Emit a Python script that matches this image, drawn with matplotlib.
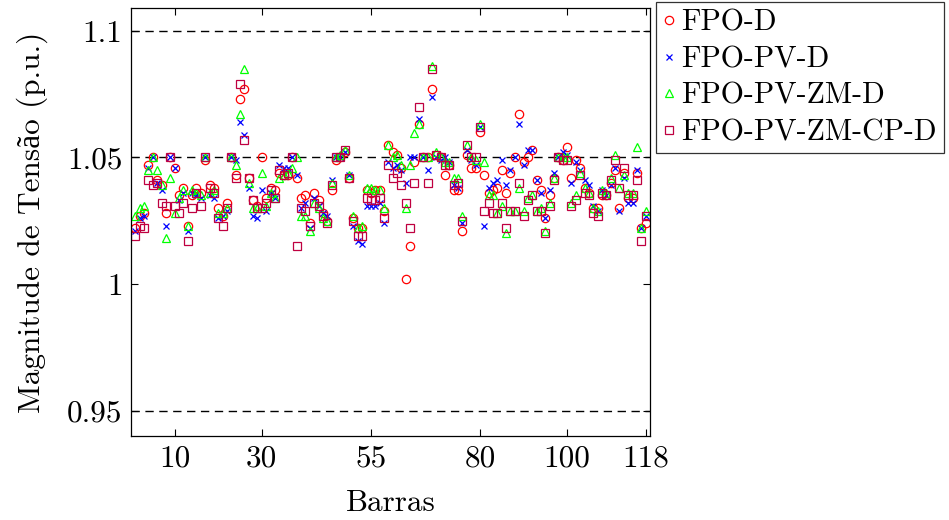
import numpy as np
import matplotlib
matplotlib.use("Agg")
import matplotlib.pyplot as plt

plt.rcParams['font.family'] = ['cmr10', 'Liberation Serif']
plt.rcParams['axes.unicode_minus'] = False

# bus voltage magnitudes (p.u.) for each OPF case, buses 1..118
fpo_d = [
    1.022, 1.027, 1.028, 1.047, 1.050, 1.041, 1.039, 1.028, 1.050, 1.046,
    1.035, 1.038, 1.023, 1.035, 1.038, 1.036, 1.049, 1.039, 1.038, 1.030,
    1.027, 1.032, 1.050, 1.043, 1.073, 1.077, 1.042, 1.033, 1.031, 1.050,
    1.034, 1.038, 1.037, 1.044, 1.043, 1.043, 1.050, 1.042, 1.034, 1.035,
    1.024, 1.036, 1.033, 1.028, 1.025, 1.037, 1.049, 1.050, 1.052, 1.042,
    1.026, 1.022, 1.022, 1.037, 1.036, 1.037, 1.037, 1.029, 1.055, 1.052,
    1.051, 1.046, 1.002, 1.015, 1.048, 1.063, 1.050, 1.050, 1.077, 1.051,
    1.050, 1.043, 1.047, 1.037, 1.037, 1.021, 1.051, 1.046, 1.046, 1.060,
    1.043, 1.036, 1.037, 1.038, 1.045, 1.036, 1.044, 1.050, 1.067, 1.048,
    1.050, 1.053, 1.041, 1.037, 1.026, 1.035, 1.042, 1.050, 1.049, 1.054,
    1.042, 1.049, 1.046, 1.038, 1.036, 1.030, 1.030, 1.035, 1.035, 1.040,
    1.045, 1.030, 1.044, 1.034, 1.034, 1.044, 1.022, 1.024,
]
fpo_pv_d = [
    1.021, 1.026, 1.027, 1.046, 1.050, 1.040, 1.037, 1.023, 1.050, 1.046,
    1.033, 1.036, 1.021, 1.036, 1.035, 1.034, 1.050, 1.035, 1.034, 1.026,
    1.027, 1.029, 1.050, 1.049, 1.064, 1.059, 1.038, 1.027, 1.026, 1.037,
    1.029, 1.036, 1.034, 1.047, 1.046, 1.046, 1.050, 1.043, 1.030, 1.032,
    1.022, 1.034, 1.031, 1.028, 1.027, 1.041, 1.050, 1.050, 1.052, 1.043,
    1.023, 1.017, 1.016, 1.031, 1.031, 1.031, 1.032, 1.024, 1.048, 1.046,
    1.047, 1.045, 1.040, 1.050, 1.050, 1.065, 1.050, 1.045, 1.074, 1.050,
    1.049, 1.050, 1.048, 1.039, 1.038, 1.024, 1.053, 1.049, 1.047, 1.062,
    1.023, 1.038, 1.040, 1.041, 1.049, 1.039, 1.045, 1.050, 1.063, 1.047,
    1.053, 1.053, 1.041, 1.036, 1.026, 1.037, 1.044, 1.050, 1.052, 1.051,
    1.040, 1.048, 1.045, 1.041, 1.039, 1.031, 1.029, 1.037, 1.035, 1.039,
    1.046, 1.029, 1.042, 1.032, 1.032, 1.045, 1.022, 1.027,
]
fpo_pv_zm_d = [
    1.027, 1.030, 1.031, 1.045, 1.050, 1.045, 1.039, 1.018, 1.042, 1.028,
    1.034, 1.037, 1.023, 1.037, 1.036, 1.035, 1.050, 1.036, 1.037, 1.028,
    1.028, 1.030, 1.050, 1.047, 1.067, 1.085, 1.040, 1.030, 1.030, 1.044,
    1.031, 1.036, 1.034, 1.042, 1.043, 1.044, 1.046, 1.050, 1.027, 1.027,
    1.021, 1.032, 1.030, 1.026, 1.025, 1.040, 1.050, 1.051, 1.053, 1.043,
    1.027, 1.022, 1.023, 1.038, 1.038, 1.037, 1.037, 1.030, 1.055, 1.050,
    1.051, 1.047, 1.030, 1.047, 1.0595, 1.063, 1.050, 1.050, 1.086, 1.052,
    1.050, 1.048, 1.048, 1.042, 1.042, 1.027, 1.055, 1.050, 1.049, 1.063,
    1.048, 1.035, 1.035, 1.028, 1.031, 1.020, 1.029, 1.029, 1.038, 1.029,
    1.034, 1.035, 1.029, 1.030, 1.021, 1.032, 1.042, 1.050, 1.050, 1.050,
    1.032, 1.035, 1.044, 1.038, 1.036, 1.030, 1.029, 1.037, 1.036, 1.042,
    1.051, 1.038, 1.043, 1.036, 1.036, 1.054, 1.022, 1.029,
]
fpo_pv_zm_cp_d = [
    1.019, 1.023, 1.022, 1.041, 1.039, 1.040, 1.032, 1.031, 1.050, 1.031,
    1.028, 1.032, 1.017, 1.030, 1.036, 1.031, 1.050, 1.038, 1.036, 1.026,
    1.023, 1.030, 1.050, 1.042, 1.079, 1.057, 1.042, 1.033, 1.030, 1.030,
    1.032, 1.037, 1.034, 1.045, 1.043, 1.044, 1.050, 1.015, 1.030, 1.029,
    1.023, 1.032, 1.031, 1.027, 1.024, 1.039, 1.050, 1.050, 1.053, 1.042,
    1.025, 1.019, 1.019, 1.034, 1.033, 1.033, 1.034, 1.026, 1.047, 1.042,
    1.044, 1.039, 1.032, 1.022, 1.040, 1.070, 1.050, 1.040, 1.085, 1.051,
    1.050, 1.047, 1.047, 1.039, 1.040, 1.025, 1.055, 1.050, 1.050, 1.062,
    1.029, 1.032, 1.028, 1.028, 1.032, 1.022, 1.029, 1.029, 1.040, 1.027,
    1.033, 1.035, 1.029, 1.029, 1.020, 1.031, 1.041, 1.050, 1.049, 1.049,
    1.031, 1.033, 1.043, 1.036, 1.035, 1.028, 1.027, 1.036, 1.035, 1.041,
    1.049, 1.038, 1.046, 1.035, 1.035, 1.041, 1.017, 1.027,
]
labels = ['FPO-D', 'FPO-PV-D', 'FPO-PV-ZM-D', 'FPO-PV-ZM-CP-D']
xtick_vals = [10, 30, 55, 80, 100, 118]
ytick_vals = [0.95, 1.0, 1.05, 1.1]
ytick_labels = ['0.95', '1', '1.05', '1.1']
limits = [0.95, 1.05, 1.1]

buses = np.arange(1, len(fpo_d) + 1)

fig = plt.figure(figsize=(9.49, 5.2), dpi=100)
ax = fig.add_axes([131 / 949, 1 - 436 / 520, 519 / 949, 428 / 520])

for y in limits:
    ax.axhline(y, color='black', ls=(0, (6, 4)), lw=1.0, zorder=1)

ax.plot(buses, fpo_d, ls='none', marker='o', ms=6, mfc='none', mec='red', mew=0.9, label=labels[0])
ax.plot(buses, fpo_pv_d, ls='none', marker='x', ms=4.2, color='blue', mew=0.9, label=labels[1])
ax.plot(buses, fpo_pv_zm_d, ls='none', marker='^', ms=5.5, mfc='none', mec='#00ff00', mew=0.9, label=labels[2])
ax.plot(buses, fpo_pv_zm_cp_d, ls='none', marker='s', ms=6, mfc='none', mec='#bf0040', mew=0.9, label=labels[3])

ax.set_xlim(0, 119)
ax.set_ylim(0.940, 1.109)
ax.set_xticks(xtick_vals)
ax.set_xticklabels([str(v) for v in xtick_vals])
ax.set_yticks(ytick_vals)
ax.set_yticklabels(ytick_labels)
ax.tick_params(direction='in', top=True, right=True, labelsize=22.5, length=5, width=0.8, pad=6)
for s in ax.spines.values():
    s.set_linewidth(0.9)

ax.set_xlabel('Barras', fontsize=22.5, labelpad=12)
ax.set_ylabel('Magnitude de Tensão (p.u.)', fontsize=22.5, labelpad=14)

leg = fig.legend(loc='upper left', bbox_to_anchor=(656 / 949, 1 - 2 / 520),
                 fontsize=21.5, frameon=True, fancybox=False, edgecolor='black',
                 handlelength=0.4, handletextpad=0.2, borderpad=0.25,
                 labelspacing=0.3, borderaxespad=0.0)
leg.get_frame().set_linewidth(0.9)

fig.savefig('out.png', dpi=100)
